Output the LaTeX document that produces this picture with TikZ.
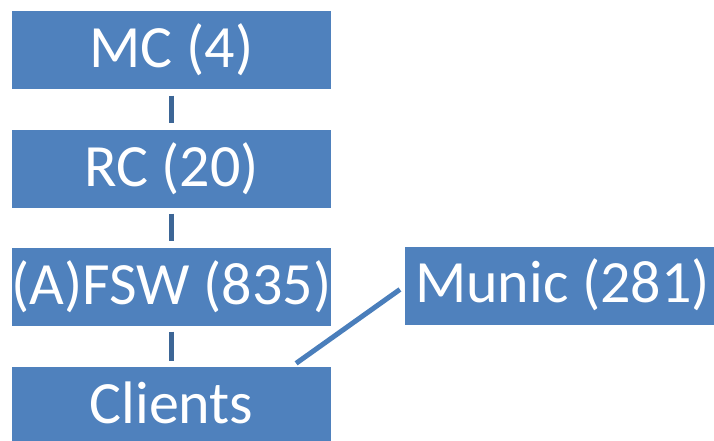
\documentclass[tikz,border=0pt]{standalone}
\usepackage{fontspec}
\setmainfont{Carlito}
\usetikzlibrary{calc}
\definecolor{boxblue}{HTML}{4F81BD}
\definecolor{linkdark}{HTML}{3D6696}
\definecolor{linklight}{HTML}{4A7EBB}
\begin{document}
\begin{tikzpicture}[x=1pt,y=-1pt,
  orgbox/.style={fill=boxblue, draw=none, inner sep=0pt, minimum width=319pt, minimum height=78pt},
  orgtext/.style={text=white, font=\fontsize{60}{60}\selectfont, inner sep=0pt, anchor=base},
  vlink/.style={draw=linkdark, line width=5.5pt, shorten <=6pt, shorten >=6pt},
  slink/.style={draw=linklight, line width=5pt, shorten <=6pt, shorten >=6pt}]
\useasboundingbox (0,0) rectangle (714,441);
\node[orgbox] (mc) at (171.5,50.5) {};
\node[orgbox] (rc) at (171.5,168.5) {};
\node[orgbox] (fsw) at (171.5,286.5) {};
\node[orgbox, minimum height=80pt] (clients) at (171.5,407) {};
\node[orgbox, minimum width=315pt] (munic) at (562.5,286) {};
\node[orgtext] (mct) at (171.5,68) {MC (4)};
\node[orgtext] (rct) at (171.5,186) {RC (20)};
\node[orgtext] (fswt) at (171.5,304) {(A)FSW (835)};
\node[orgtext] (clientst) at (171.5,423) {Clients};
\node[orgtext] (munict) at (562.5,302) {Munic (281)};
\coordinate (cm) at ($(clients.north east)+(-40,0)$);
\draw[vlink] (mc.south) -- (rc.north);
\draw[vlink] (rc.south) -- (fsw.north);
\draw[vlink] (fsw.south) -- (clients.north);
\draw[slink] (munic.west) -- (cm);
\end{tikzpicture}
\end{document}
